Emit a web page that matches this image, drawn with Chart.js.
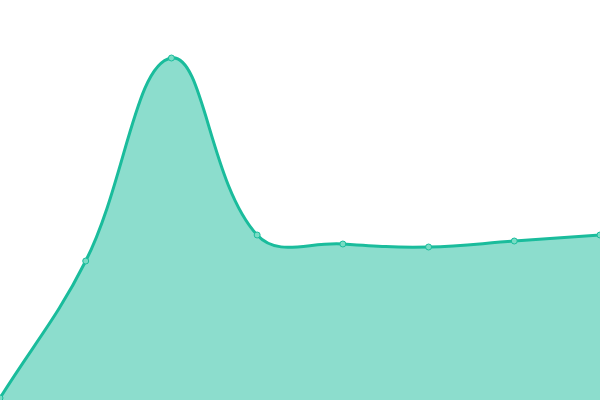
<!DOCTYPE html>
<html>
<head>
<meta charset="utf-8">
<script src="https://cdn.jsdelivr.net/npm/chart.js@4"></script>
<style>
  html, body { margin: 0; padding: 0; background: #fff; }
  #wrap { width: 600px; height: 400px; }
</style>
</head>
<body>
<div id="wrap"><canvas id="areaChart"></canvas></div>
<script>
// categories and values
const labels = ["1", "2", "3", "4", "5", "6", "7", "8"];
const values = [2, 139, 342, 165, 156, 153, 159, 165];

const lineColor = "rgb(26, 188, 156)";

const chart = new Chart(document.getElementById("areaChart"), {
  type: "line",
  data: {
    labels: labels,
    datasets: [
      {
        data: values,
        borderColor: lineColor,
        borderWidth: 3,
        backgroundColor: "rgba(26, 188, 156, 0.5)",
        fill: "origin",
        tension: 0.4,
        pointRadius: 3,
        pointBorderWidth: 1,
        pointBackgroundColor: "rgba(120, 220, 196, 1)",
        pointBorderColor: lineColor,
      },
    ],
  },
  options: {
    responsive: true,
    maintainAspectRatio: false,
    animation: false,
    layout: { padding: 0, autoPadding: false },
    plugins: {
      legend: { display: false },
      tooltip: { enabled: false },
    },
    scales: {
      x: { display: false, offset: false },
      y: { display: false, min: 0, max: 400 },
    },
  },
});
</script>
</body>
</html>
